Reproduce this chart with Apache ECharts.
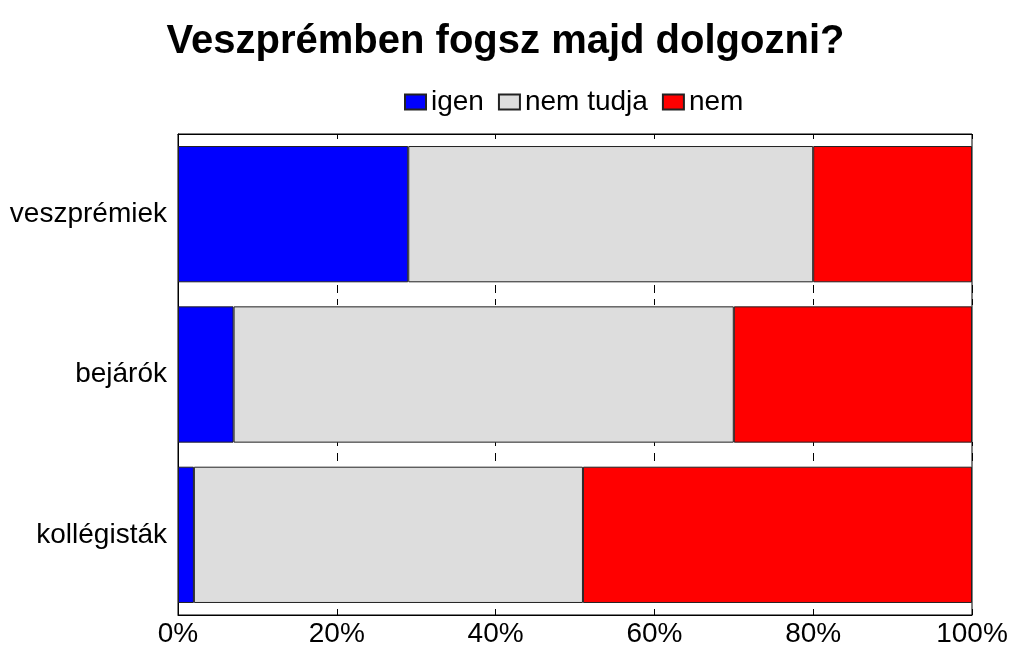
<!DOCTYPE html>
<html>
<head>
<meta charset="utf-8">
<title>Veszprémben fogsz majd dolgozni?</title>
<script src="https://cdn.jsdelivr.net/npm/echarts@6/dist/echarts.min.js"></script>
<style>
  html, body { margin: 0; padding: 0; background: #fff; }
  #chart { width: 1011px; height: 657px; }
</style>
</head>
<body>
<div id="chart"></div>
<script>
// adatok
const categories = ['veszprémiek', 'bejárók', 'kollégisták'];
const seriesNames = ['igen', 'nem tudja', 'nem'];
const igen = [29, 7, 2];
const nemTudja = [51, 63, 49];
const nem = [20, 30, 49];
const xTicks = [0, 20, 40, 60, 80, 100];

const FONT = '"Liberation Sans", Arial, sans-serif';
const chart = echarts.init(document.getElementById('chart'));

// kis osztásjelek a sávok közötti résekben (y pozíció, hossz)
const gapTicks = [
  [285, 8], [299, 6],
  [442, 4], [453, 8]
];
const gridTop = 134;

const baseX = {
  type: 'value',
  min: xTicks[0],
  max: xTicks[xTicks.length - 1],
  interval: 20,
  splitLine: { show: false }
};

const xAxes = [
  Object.assign({}, baseX, {
    position: 'bottom',
    axisLine: { show: true, lineStyle: { color: '#000', width: 1 } },
    axisTick: { show: true, inside: true, length: 6, lineStyle: { color: '#000' } },
    axisLabel: {
      show: true, color: '#000', fontSize: 28, fontFamily: FONT, margin: 5,
      formatter: '{value}%'
    }
  }),
  Object.assign({}, baseX, {
    position: 'top',
    axisLine: { show: true, lineStyle: { color: '#000', width: 1 } },
    axisTick: { show: true, inside: true, length: 5, lineStyle: { color: '#000' } },
    axisLabel: { show: false }
  })
].concat(gapTicks.map(g => Object.assign({}, baseX, {
  position: 'top',
  offset: -(g[0] - gridTop),
  axisLine: { show: false },
  axisTick: { show: true, inside: true, length: g[1], lineStyle: { color: '#000' } },
  axisLabel: { show: false }
})));

const colors = ['#0000ff', '#dddddd', '#ff0000'];
const values = [igen, nemTudja, nem];

const option = {
  animation: false,
  backgroundColor: '#fff',
  title: {
    text: 'Veszprémben fogsz majd dolgozni?',
    left: 'center',
    top: 17,
    textStyle: { fontSize: 40, fontWeight: 'bold', color: '#000', fontFamily: FONT }
  },
  legend: {
    left: 404,
    top: 88,
    padding: 0,
    itemWidth: 21,
    itemHeight: 15,
    itemGap: 14,
    icon: 'rect',
    textStyle: { fontSize: 28, color: '#000', fontFamily: FONT },
    data: seriesNames
  },
  grid: {
    left: 178,
    right: 39,
    top: gridTop,
    bottom: 42,
    show: true,
    borderColor: '#000',
    borderWidth: 1,
    backgroundColor: 'transparent'
  },
  xAxis: xAxes,
  yAxis: {
    type: 'category',
    data: categories,
    inverse: true,
    axisLine: { show: true, lineStyle: { color: '#000' } },
    axisTick: { show: false },
    axisLabel: { color: '#000', fontSize: 28, fontFamily: FONT, margin: 11 }
  },
  series: seriesNames.map((name, i) => ({
    name: name,
    type: 'bar',
    stack: 'total',
    barCategoryGap: '15%',
    data: values[i],
    itemStyle: { color: colors[i], borderColor: '#222', borderWidth: 1 }
  }))
};

chart.setOption(option);
</script>
</body>
</html>
